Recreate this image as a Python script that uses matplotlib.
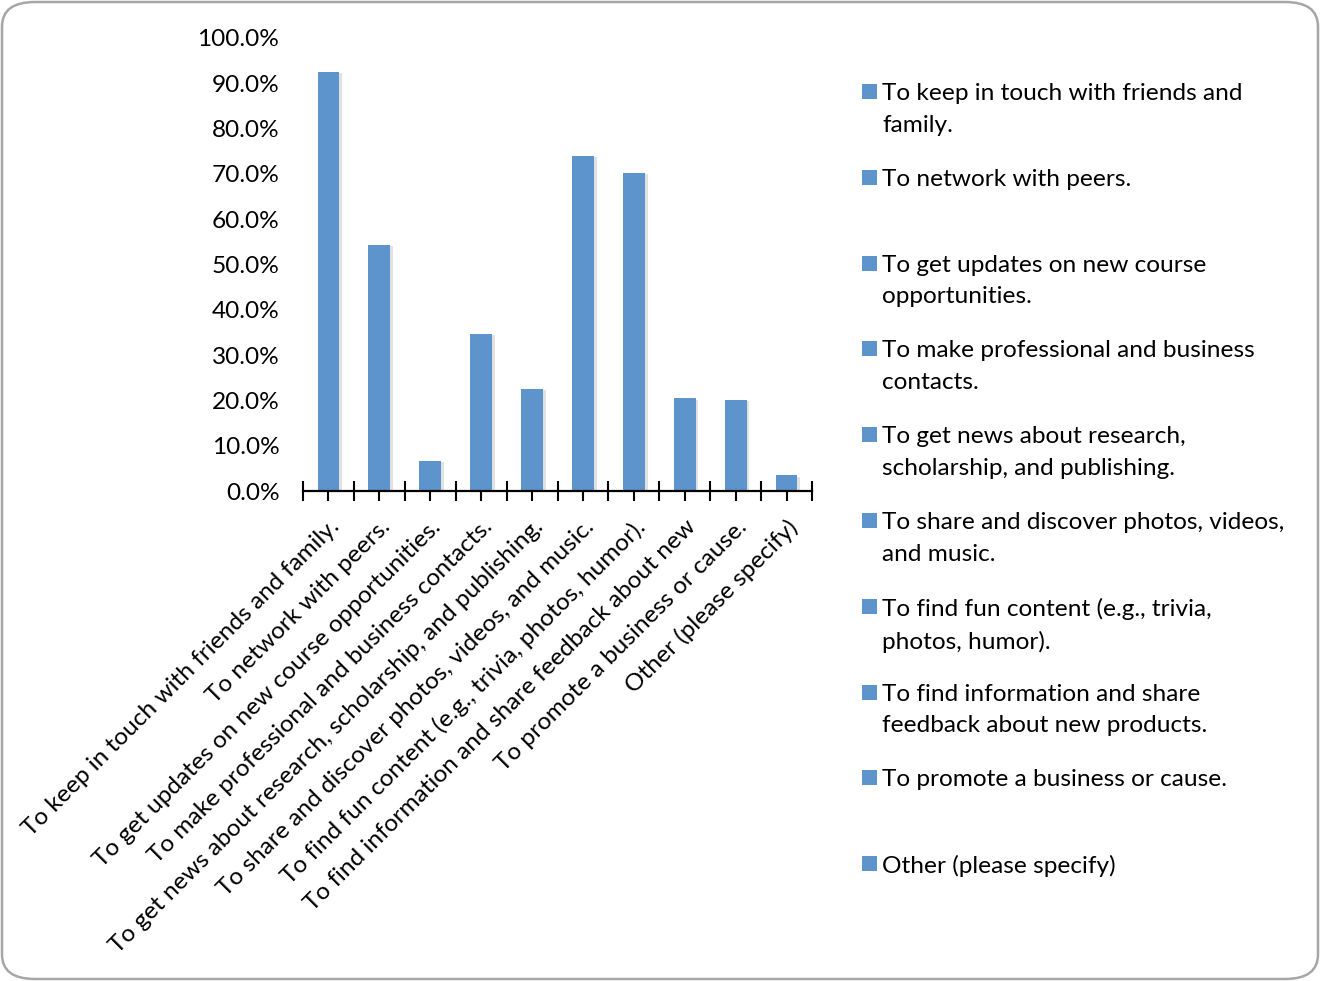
import matplotlib.pyplot as plt
from matplotlib.patches import FancyBboxPatch, Rectangle
import matplotlib.patheffects as pe
from matplotlib.ticker import FuncFormatter, FixedLocator

plt.rcParams['font.family'] = ['Lato', 'DejaVu Sans']

categories = [
    "To keep in touch with friends and family.",
    "To network with peers.",
    "To get updates on new course opportunities.",
    "To make professional and business contacts.",
    "To get news about research, scholarship, and publishing.",
    "To share and discover photos, videos, and music.",
    "To find fun content (e.g., trivia, photos, humor).",
    "To find information and share feedback about new",
    "To promote a business or cause.",
    "Other (please specify)",
]
legend_labels = [
    "To keep in touch with friends and\nfamily.",
    "To network with peers.",
    "To get updates on new course\nopportunities.",
    "To make professional and business\ncontacts.",
    "To get news about research,\nscholarship, and publishing.",
    "To share and discover photos, videos,\nand music.",
    "To find fun content (e.g., trivia,\nphotos, humor).",
    "To find information and share\nfeedback about new products.",
    "To promote a business or cause.",
    "Other (please specify)",
]
values = [92.5, 54.3, 6.7, 34.7, 22.5, 74.0, 70.2, 20.5, 20.1, 3.5]

bar_color = '#5D94CB'
fs = 17.6
W, H = 1320, 981

fig = plt.figure(figsize=(13.2, 9.81), dpi=100)

# rounded chart border
border = FancyBboxPatch((2 / W, 2 / H), 1 - 4 / W, 1 - 4 / H,
                        boxstyle="round,pad=0,rounding_size=0.025",
                        transform=fig.transFigure, facecolor='white',
                        edgecolor='#A6A6A6', linewidth=1.8, zorder=-10)
fig.patches.append(border)

ax = fig.add_axes([303 / W, 1 - 491 / H, 509 / W, 453 / H])
ax.patch.set_alpha(0)

x = list(range(len(values)))
bars = ax.bar(x, values, width=0.43, color=bar_color, zorder=3)
for b in bars:
    b.set_path_effects([pe.SimplePatchShadow(offset=(2, -1), shadow_rgbFace='#8a8a8a', alpha=0.25),
                        pe.Normal()])

ax.set_xlim(-0.5, len(values) - 0.5)
ax.set_ylim(0, 100)
ax.set_yticks(range(0, 101, 10))
ax.yaxis.set_major_formatter(FuncFormatter(lambda v, p: f"{v:.1f}%"))
ax.tick_params(axis='y', length=0, pad=17, labelsize=fs, labelcolor='black')

for s in ['left', 'top', 'right']:
    ax.spines[s].set_visible(False)
ax.spines['bottom'].set_linewidth(1.6)
ax.spines['bottom'].set_zorder(5)

ax.xaxis.set_major_locator(FixedLocator([i - 0.5 for i in range(len(values) + 1)]))
ax.xaxis.set_minor_locator(FixedLocator(x))
ax.tick_params(axis='x', which='both', direction='inout', length=14, width=1.5, color='black')
ax.set_xticklabels([])
for xi, lab in zip(x, categories):
    ax.annotate(lab, xy=(xi, 0), xycoords='data', xytext=(0, -18), textcoords='offset points',
                rotation=45, ha='right', va='top', rotation_mode='anchor', fontsize=fs)

# legend drawn as text entries
y0, step = 92, 85.8
for i, lab in enumerate(legend_labels):
    yc = y0 + i * step
    fig.patches.append(Rectangle((862 / W, 1 - (yc + 7) / H), 15 / W, 15 / H,
                                 transform=fig.transFigure, facecolor=bar_color, edgecolor='none'))
    fig.text(882 / W, 1 - (yc - 9) / H, lab, ha='left', va='top', fontsize=fs, linespacing=1.62)

fig.savefig('out.png', dpi=100)
